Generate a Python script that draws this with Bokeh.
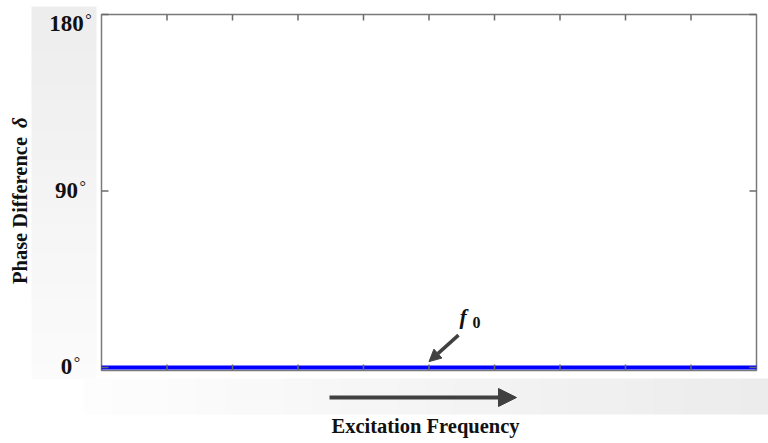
import math
from bokeh.plotting import figure
from bokeh.models import Range1d, Label, BoxAnnotation, Arrow, NormalHead
from bokeh.embed import file_html
from bokeh.resources import INLINE

# ---- data -------------------------------------------------------------
frequency = [0, 1, 2, 3, 4, 5, 6, 7, 8, 9, 10]       # excitation frequency (arb.)
phase_deg = [0, 0, 0, 0, 0, 0, 0, 0, 0, 0, 0]         # phase difference delta
phase_ticks = [0, 90, 180]
phase_tick_labels = ["0", "90", "180"]
f0 = 5                                               # resonance frequency marker

# ---- layout -----------------------------------------------------------
# The plotting box occupies canvas pixels 101..756 (x) and 14..370 (y); the
# ranges are padded so that the margins around it are part of the frame.
W, H = 768, 443
PAD_L, PAD_R, PAD_T, PAD_B = 101, 12, 14, 73
X0, X1 = min(frequency), max(frequency)
Y0, Y1 = -1.53, 180.0
BOX_W, BOX_H = W - PAD_L - PAD_R, H - PAD_T - PAD_B
sx = BOX_W / (X1 - X0)
sy = BOX_H / (Y1 - Y0)

SERIF = "Liberation Serif"
INK = "#111111"
GREY = "#404040"
FRAME = "#7a7a7a"
TICK = "#6a6a6a"


def px_y(val):
    """data y -> canvas pixel row"""
    return PAD_T + (Y1 - val) * sy


def canvas_label(x, y, text, size, angle=0.0, **kw):
    """Label whose (x, y) is the text baseline in canvas pixels."""
    shift = 0.3 * size
    if angle:
        x -= shift
    else:
        y -= shift
    opts = dict(text_font=SERIF, text_color=INK, text_baseline="alphabetic",
                text_font_size="%gpx" % size, angle=angle)
    opts.update(kw)
    return Label(x=x, y=y, x_units="canvas", y_units="canvas", text=text, **opts)


def canvas_box(left, right, top, bottom, color):
    return BoxAnnotation(left=left, right=right, top=top, bottom=bottom,
                         left_units="canvas", right_units="canvas",
                         top_units="canvas", bottom_units="canvas",
                         fill_color=color, fill_alpha=1.0, line_color=None,
                         level="underlay")


p = figure(width=W, height=H, output_backend="svg", toolbar_location=None,
           x_range=Range1d(X0 - PAD_L / sx, X1 + PAD_R / sx),
           y_range=Range1d(Y0 - PAD_B / sy, Y1 + PAD_T / sy),
           x_axis_location=None, y_axis_location=None,
           min_border=0)
p.xgrid.visible = False
p.ygrid.visible = False
p.outline_line_color = None
p.background_fill_color = "white"
p.border_fill_color = "white"

# shaded side panels (stepped gradients)
n = 24
for i in range(n):
    t = i / (n - 1)
    c = int(round(0xed + (0xfb - 0xed) * t))
    p.add_layout(canvas_box(31, 96, 6 + (378 - 6) * i / n, 6 + (378 - 6) * (i + 1) / n + 0.5,
                            "#%02x%02x%02x" % (c, c, c)))
for i in range(n):
    t = i / (n - 1)
    c = int(round(0xfd + (0xec - 0xfd) * t))
    p.add_layout(canvas_box(83 + (768 - 83) * i / n, 83 + (768 - 83) * (i + 1) / n + 0.5,
                            378, 414, "#%02x%02x%02x" % (c, c, c)))

# plotting box
p.quad(left=[X0], right=[X1], bottom=[Y0], top=[Y1], fill_color="white",
       line_color=FRAME, line_width=1.5)

# phase curve
p.line(frequency, phase_deg, line_color="#0000ff", line_width=4)

# inward tick marks
n_f = len(frequency)
p.ray(frequency[1:-1], [Y0] * (n_f - 2), length=6, length_units="screen",
      angle=math.pi / 2, line_color=TICK, line_width=1.5)
p.ray(frequency[1:-1], [Y1] * (n_f - 2), length=6, length_units="screen",
      angle=-math.pi / 2, line_color=TICK, line_width=1.5)
n_p = len(phase_ticks)
p.ray([X0] * n_p, phase_ticks, length=7, length_units="screen", angle=0,
      line_color=TICK, line_width=1.5)
p.ray([X1] * n_p, phase_ticks, length=7, length_units="screen", angle=math.pi,
      line_color=TICK, line_width=1.5)

# y tick labels with raised degree rings
for val, txt in zip(phase_ticks, phase_tick_labels):
    base = px_y(val) + 6 if val != 180 else px_y(val) + 16
    p.add_layout(canvas_label(66, base, txt, 23, text_align="center",
                              text_font_style="bold"))
    half = len(txt) * 11.5 / 2
    p.add_layout(canvas_label(66 + half + 1.5, base - 6, "\u00b0", 16, text_align="left"))

# axis titles
p.add_layout(canvas_label(425, 432, "Excitation Frequency", 20.5, text_align="center",
                          text_font_style="bold"))
p.add_layout(canvas_label(26, 210, "Phase Difference", 20.5, angle=math.pi / 2,
                          text_align="center", text_font_style="bold"))
p.add_layout(canvas_label(26, 122, "\u03b4", 21, angle=math.pi / 2, text_align="center",
                          text_font_style="bold italic"))

# frequency direction arrow
p.add_layout(Arrow(x_start=329, y_start=397, x_end=516, y_end=397,
                   start_units="canvas", end_units="canvas",
                   line_color=GREY, line_width=4,
                   end=NormalHead(size=18, fill_color=GREY, line_color=GREY, line_width=1)))

# resonance marker
p.add_layout(Arrow(x_start=f0 + 0.45, y_start=16.5, x_end=f0, y_end=3.0,
                   line_color=GREY, line_width=3.5,
                   end=NormalHead(size=12, fill_color=GREY, line_color=GREY, line_width=1)))
p.add_layout(canvas_label(459, 323, "f", 22, text_font_style="bold italic"))
p.add_layout(canvas_label(472, 327, "0", 16, text_font_style="bold"))

open("out.html", "w").write(file_html(p, INLINE))
